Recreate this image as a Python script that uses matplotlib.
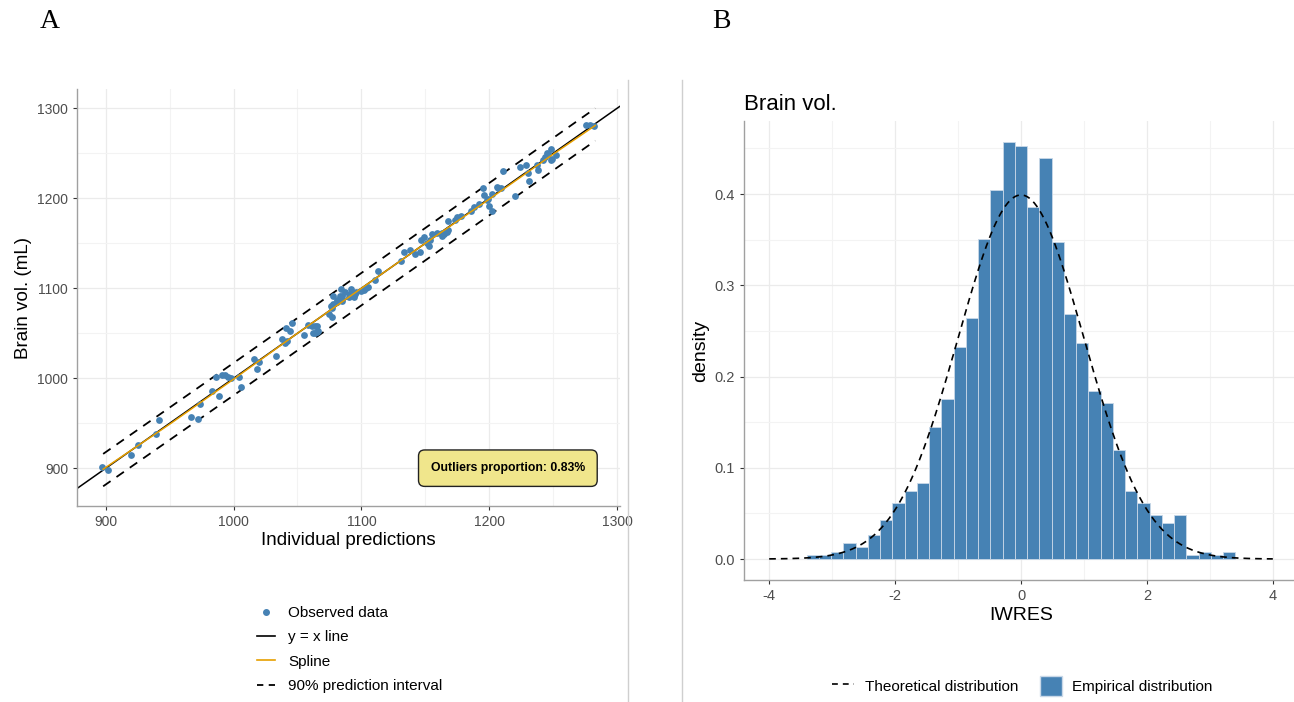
import numpy as np
import matplotlib.pyplot as plt
from matplotlib.lines import Line2D
from matplotlib.patches import Patch

plt.rcParams['font.family'] = ['Liberation Sans', 'DejaVu Sans']
plt.rcParams['axes.unicode_minus'] = False

# Panel A : observed vs individual predictions
ipred = [897, 902, 920, 925, 939, 942, 967, 972, 974, 983, 986, 989, 991, 993, 996, 998,
         1004, 1006, 1016, 1018, 1020, 1033, 1038, 1040, 1041, 1042, 1044, 1046, 1055, 1058,
         1061, 1062, 1064, 1064, 1065, 1065, 1066, 1075, 1076, 1077, 1077, 1078, 1078, 1081,
         1081, 1083, 1084, 1085, 1085, 1087, 1090, 1091, 1092, 1094, 1095, 1096, 1100, 1102,
         1104, 1105, 1111, 1113, 1131, 1133, 1138, 1142, 1146, 1147, 1149, 1151, 1153, 1154,
         1155, 1159, 1163, 1163, 1165, 1167, 1168, 1168, 1173, 1175, 1178, 1186, 1188, 1192,
         1195, 1196, 1198, 1199, 1200, 1202, 1202, 1206, 1207, 1209, 1211, 1220, 1224, 1229,
         1230, 1231, 1237, 1238, 1242, 1244, 1245, 1246, 1248, 1248, 1249, 1252, 1276, 1282,
         1279]
brain_vol = [902, 898, 915, 926, 938, 954, 957, 955, 972, 986, 1002, 980, 1004, 1004, 1002, 1000,
             1001, 990, 1022, 1010, 1018, 1025, 1044, 1039, 1056, 1042, 1053, 1062, 1048, 1059,
             1058, 1050, 1058, 1050, 1058, 1052, 1053, 1072, 1080, 1068, 1078, 1091, 1083, 1087,
             1085, 1091, 1099, 1086, 1091, 1096, 1090, 1094, 1099, 1090, 1094, 1096, 1097, 1098,
             1100, 1101, 1109, 1119, 1130, 1140, 1143, 1138, 1140, 1154, 1157, 1150, 1147, 1154,
             1160, 1162, 1158, 1161, 1160, 1163, 1165, 1175, 1176, 1179, 1180, 1186, 1190, 1194,
             1211, 1204, 1198, 1199, 1192, 1186, 1205, 1213, 1211, 1211, 1230, 1203, 1235, 1237,
             1228, 1219, 1237, 1231, 1243, 1246, 1250, 1249, 1255, 1243, 1244, 1248, 1281, 1280,
             1282]

spline_x = [898, 950, 1000, 1050, 1100, 1150, 1200, 1250, 1283]
spline_y = [899, 949, 999, 1050, 1100, 1150, 1199, 1249, 1281]

pi_x = [898, 1000, 1100, 1200, 1283]
pi_lower = [880, 981, 1081, 1181, 1264]
pi_upper = [916, 1017, 1117, 1217, 1300]

outliers_pct = 0.83

# Panel B : IWRES histogram
bin_centers = [-3.308, -3.114, -2.919, -2.725, -2.530, -2.335, -2.141, -1.946, -1.751,
               -1.557, -1.362, -1.168, -0.973, -0.778, -0.584, -0.389, -0.195, 0.0,
               0.195, 0.389, 0.584, 0.778, 0.973, 1.168, 1.362, 1.557, 1.751, 1.946,
               2.141, 2.335, 2.530, 2.725, 2.919, 3.114, 3.308]
bin_width = 0.1946
density = [0.004, 0.004, 0.008, 0.017, 0.013, 0.026, 0.043, 0.061, 0.074, 0.083, 0.145,
           0.175, 0.232, 0.264, 0.351, 0.404, 0.457, 0.453, 0.386, 0.440, 0.347, 0.268,
           0.237, 0.184, 0.171, 0.119, 0.074, 0.061, 0.048, 0.039, 0.048, 0.004, 0.008,
           0.004, 0.008]
theo_mean, theo_sd = 0.0, 1.0

STEEL = '#4682B4'
GRID = '#EBEBEB'
TICKC = '#4D4D4D'


def style_axes(ax):
    ax.set_axisbelow(True)
    ax.grid(True, which='major', color=GRID, lw=0.9)
    ax.grid(True, which='minor', color='#F3F3F3', lw=0.8)
    for s in ['top', 'right']:
        ax.spines[s].set_visible(False)
    for s in ['left', 'bottom']:
        ax.spines[s].set_color('#A0A0A0')
        ax.spines[s].set_linewidth(1.0)
    ax.tick_params(which='major', length=3, color='#333333', labelcolor=TICKC)
    ax.tick_params(which='minor', length=0)


fig = plt.figure(figsize=(12.94, 7.02), dpi=100)

# ---------- panel A ----------
axA = fig.add_axes([77.2 / 1294, 1 - 506.1 / 702, 542.4 / 1294, 416.7 / 702])
style_axes(axA)
axA.axline((900, 900), slope=1, color='black', lw=1.1, zorder=2)
axA.plot(pi_x, pi_lower, color='black', lw=1.3, dashes=(5, 4), zorder=2)
axA.plot(pi_x, pi_upper, color='black', lw=1.3, dashes=(5, 4), zorder=2)
axA.scatter(ipred, brain_vol, s=24, color=STEEL, linewidths=0, zorder=3)
axA.plot(spline_x, spline_y, color='#E69F00', lw=1.1, zorder=4)
axA.set_xlim(877.7, 1302)
axA.set_ylim(858, 1321)
axA.set_xticks([900, 1000, 1100, 1200, 1300])
axA.set_xticks([950, 1050, 1150, 1250], minor=True)
axA.set_yticks([900, 1000, 1100, 1200, 1300])
axA.set_yticks([950, 1050, 1150, 1250], minor=True)
axA.tick_params(labelsize=10)
axA.set_xlabel('Individual predictions', fontsize=13.5, labelpad=2)
axA.set_ylabel('Brain vol. (mL)', fontsize=13.5, labelpad=4)
axA.text(0.794, 0.091, f'Outliers proportion: {outliers_pct:.2f}%', transform=axA.transAxes,
         ha='center', va='center', fontsize=8.8, fontweight='bold', zorder=5,
         bbox=dict(boxstyle='round,pad=1.0,rounding_size=0.5', fc='#F0E68C', ec='#222222', lw=1.0))

handlesA = [
    Line2D([], [], ls='none', marker='o', ms=4, color=STEEL),
    Line2D([], [], color='black', lw=1.2),
    Line2D([], [], color='#E69F00', lw=1.2),
    Line2D([], [], color='black', lw=1.3, dashes=(3.5, 3)),
]
fig.legend(handlesA, ['Observed data', 'y = x line', 'Spline', '90% prediction interval'],
           loc='upper left', bbox_to_anchor=(257 / 1294, 1 - 606 / 702), frameon=False,
           fontsize=11, borderpad=0, borderaxespad=0, handlelength=1.2,
           handletextpad=0.85, labelspacing=0.68)

# ---------- panel B ----------
axB = fig.add_axes([744 / 1294, 1 - 580 / 702, 554 / 1294, 459 / 702])
style_axes(axB)
axB.bar(bin_centers, density, width=bin_width, color=STEEL, edgecolor='#C9D8E8',
        linewidth=0.6, zorder=2)
xs = np.linspace(-4, 4, 400)
pdf = np.exp(-0.5 * ((xs - theo_mean) / theo_sd) ** 2) / (theo_sd * np.sqrt(2 * np.pi))
axB.plot(xs, pdf, color='black', lw=1.2, dashes=(4, 3), zorder=3)
axB.set_xlim(-4.4, 4.4)
axB.set_ylim(-0.023, 0.48)
axB.set_xticks([-4, -2, 0, 2, 4])
axB.set_xticks([-3, -1, 1, 3], minor=True)
axB.set_yticks([0.0, 0.1, 0.2, 0.3, 0.4])
axB.set_yticks([0.05, 0.15, 0.25, 0.35, 0.45], minor=True)
axB.set_yticklabels(['0.0', '0.1', '0.2', '0.3', '0.4'])
axB.tick_params(labelsize=10.5)
axB.set_xlabel('IWRES', fontsize=14, labelpad=3)
axB.set_ylabel('density', fontsize=14, labelpad=4)
axB.set_title('Brain vol.', fontsize=16, loc='left', pad=8)

handlesB = [
    Line2D([], [], color='black', lw=1.2, dashes=(3.5, 3)),
    Patch(facecolor=STEEL, edgecolor='#C9D8E8'),
]
fig.legend(handlesB, ['Theoretical distribution', 'Empirical distribution'],
           loc='center left', bbox_to_anchor=(832 / 1294, 1 - 686 / 702), ncol=2,
           frameon=False, fontsize=11, borderpad=0, borderaxespad=0,
           handlelength=1.45, handleheight=1.55, handletextpad=0.7, columnspacing=1.4)

# separators and panel letters
for xp in [628, 682]:
    fig.add_artist(Line2D([xp / 1294, xp / 1294], [0, 1 - 80 / 702],
                          transform=fig.transFigure, color='#CFCFCF', lw=1))
fig.text(50 / 1294, 1 - 22 / 702, 'A', family=['Liberation Serif', 'DejaVu Serif'],
         fontsize=20, ha='center', va='center')
fig.text(721 / 1294, 1 - 22 / 702, 'B', family=['Liberation Serif', 'DejaVu Serif'],
         fontsize=20, ha='center', va='center')

fig.savefig('out.png', dpi=100)
